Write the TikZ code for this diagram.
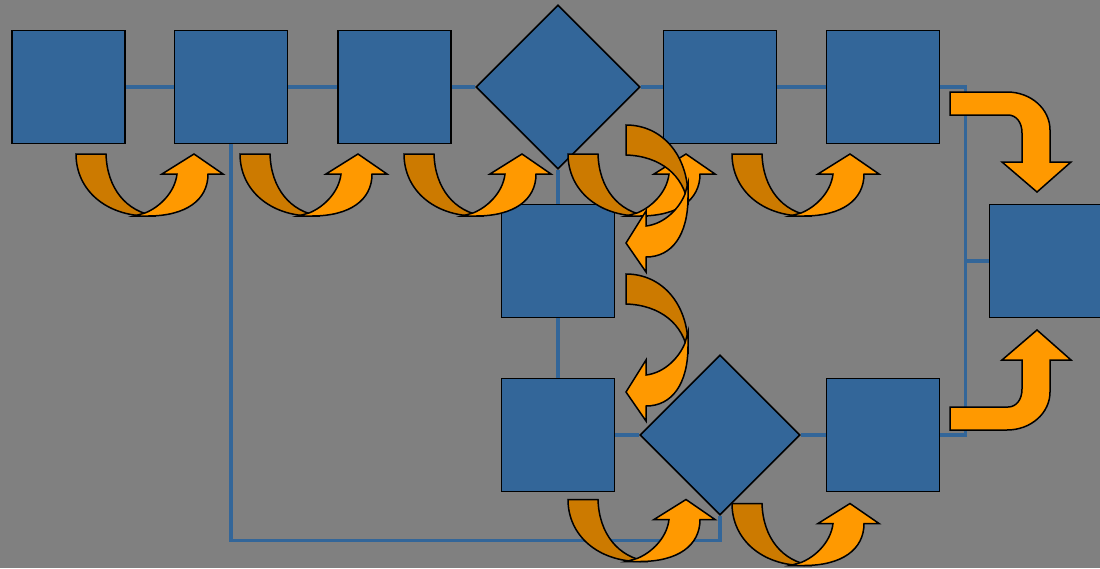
\documentclass[tikz,border=0pt]{standalone}
\usetikzlibrary{shapes.geometric}

\definecolor{bggray}{HTML}{808080}
\definecolor{boxblue}{HTML}{336699}
\definecolor{arrlight}{HTML}{FF9900}
\definecolor{arrdark}{HTML}{CC7A00}

\tikzset{
  box/.style={draw=black, line width=1.6pt, fill=boxblue, minimum size=113pt, inner sep=0pt},
  decision/.style={diamond, draw=black, line width=1.6pt, fill=boxblue, inner sep=0pt,
    minimum width=#1, minimum height=#1},
  wire/.style={draw=boxblue, line width=3.5pt},
  uturn/.pic={
    \filldraw[fill=arrdark, line width=1.5pt] (0,0) .. controls (0,36) and (30,62) .. (72,62)
      -- (80,62) .. controls (50,58) and (31,34) .. (30,0) -- cycle;
    \filldraw[fill=arrlight, line width=1.5pt] (58,62) -- (72,62) .. controls (110,62) and (132,46) .. (132,20)
      -- (147,20) -- (118,0) -- (86,20) -- (101,20) .. controls (99,38) and (84,53) .. (69,59) -- cycle;
  },
  bent/.pic={
    \filldraw[fill=arrlight, line width=1.5pt] (0,0) -- (57,0) .. controls (81,0) and (100,17) .. (100,38)
      -- (100,70) -- (121,70) -- (87,100) -- (52,70) -- (72,70) -- (72,41)
      .. controls (72,30) and (66,23) .. (58,23) -- (0,23) -- cycle;
  }
}

\begin{document}
\begin{tikzpicture}[x=1pt, y=-1pt]
\useasboundingbox (0,0) rectangle (1100,568);
\fill[bggray] (0,0) rectangle (1100,568);

% top row
\node[box] (s1) at (68.5,87) {};
\node[box] (s2) at (231,87) {};
\node[box] (s3) at (394.5,87) {};
\node[decision=164pt] (d1) at (558,87) {};
\node[box] (s4) at (720,87) {};
\node[box] (s5) at (883,87) {};
% middle and bottom
\node[box] (m1) at (558,261) {};
\node[box] (r1) at (1046,261) {};
\node[box] (b1) at (558,435) {};
\node[decision=160pt] (d2) at (720,435) {};
\node[box] (b2) at (883,435) {};

\draw[wire] (s1) -- (s2) (s2) -- (s3) (s3) -- (d1) (d1) -- (s4) (s4) -- (s5);
\draw[wire] (s5.east) -- ++(25,0) coordinate (bus) |- (b2.east);
\draw[wire] (bus |- r1.west) -- (r1.west);
\draw[wire] (s2.south) -- ++(0,396) -| (d2.south);
\draw[wire] (d1) -- (m1) (m1) -- (b1) (b1) -- (d2) (d2) -- (b2);

\foreach \x in {76,240,404,568,732}
  \pic at (\x,154) {uturn};
\pic at (568,499.5) {uturn};
\pic at (732,503.5) {uturn};
\pic[cm={0,-1,-1,0,(0,0)}] at (626,125) {uturn};
\pic[cm={0,-1,-1,0,(0,0)}] at (626,274) {uturn};

\pic at (950,92) {bent};
\pic[yscale=-1] at (950,430) {bent};
\end{tikzpicture}
\end{document}
